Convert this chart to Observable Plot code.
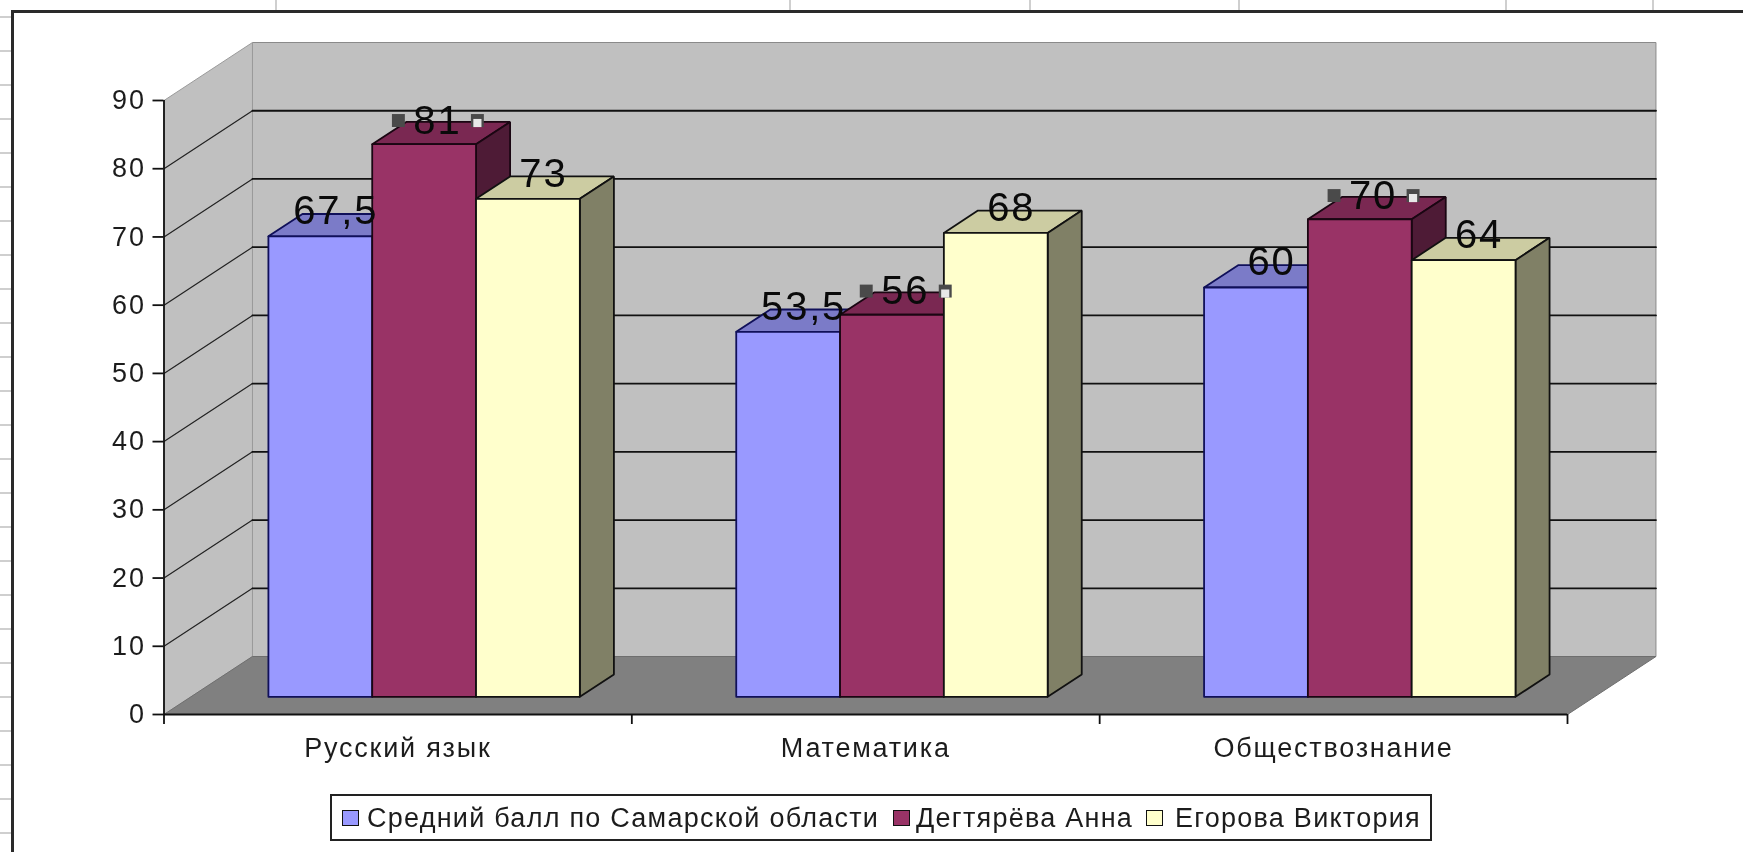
<!DOCTYPE html>
<html lang="ru">
<head>
<meta charset="utf-8">
<script src="https://cdn.jsdelivr.net/npm/d3@7"></script>
<script src="https://cdn.jsdelivr.net/npm/@observablehq/plot@0.6"></script>
<style>
  html, body { margin: 0; padding: 0; width: 1743px; height: 852px; overflow: hidden; background: #fff; }
  body { position: relative; font-family: "Liberation Sans", Arial, sans-serif; color: #1c1c1c; }
  #bg { position: absolute; inset: 0; filter: blur(0.4px); }
  #bg div { position: absolute; }
  #chart { position: absolute; left: 0; top: 0; filter: blur(0.4px); }
  #chart g[aria-label="y-axis tick label"] { letter-spacing: 2px; }
  #chart g[aria-label="x-axis tick label"] { letter-spacing: 1.77px; }
  #chart g[aria-label="text"] { letter-spacing: 1.8px; }
  #legend {
    position: absolute; left: 330px; top: 794px; width: 1102px; height: 47px; box-sizing: border-box;
    border: 2px solid #222; background: #fff; font-size: 27px; letter-spacing: 1.25px; white-space: nowrap;
    filter: blur(0.4px);
  }
  #legend span.k { position: absolute; top: 14px; width: 15px; height: 14px; border: 1.5px solid #111; }
  #legend span.t { position: absolute; top: 7px; line-height: 30px; }
</style>
</head>
<body>
<div id="bg"></div>
<div id="chart"></div>
<div id="legend"></div>
<script>
const categories = ["Русский язык", "Математика", "Обществознание"];
const seriesNames = ["Средний балл по Самарской области", "Дегтярёва Анна", "Егорова Виктория"];
const averageScores = [67.5, 53.5, 60];
const annaScores = [81, 56, 70];
const viktoriaScores = [73, 68, 64];
const seriesValues = [averageScores, annaScores, viktoriaScores];
const selectedSeries = 1;
const yTicks = [0, 10, 20, 30, 40, 50, 60, 70, 80, 90];

const frontColors = ["#9999FF", "#993366", "#FFFFCC"];
const topColors = ["#7B7BC8", "#7A2852", "#CCCCA2"];
const sideColors = ["#4D4D80", "#4E1B36", "#808066"];
const edgeColors = ["#10105a", "#1a0612", "#111"];

// oblique projection of the 3-D box, in data units
const depthX = 0.1891, depthY = 8.5;
const zFront = 0.305, zBack = 0.69;
const groupGap = 0.1655, barWidth = 0.2219;
const p = (x, v, z) => ({x: x + z * depthX, y: v + z * depthY});

const polys = [];
let polyId = 0;
function poly(points, fill, stroke) {
  const id = polyId++;
  for (const q of [...points, points[0]]) polys.push({id, x: q.x, y: q.y, fill, stroke});
}

const bars = [];
categories.forEach((c, i) => seriesValues.forEach((vals, s) => {
  bars.push({i, s, value: vals[i], x1: i + groupGap + s * barWidth, x2: i + groupGap + (s + 1) * barWidth});
}));

// floor and walls
const cn = categories.length, yMax = 90;
const wallPolys = [];
{
  const mark = polys.length;
  poly([p(0,0,1), p(cn,0,1), p(cn,yMax,1), p(0,yMax,1)], "#C0C0C0", "#8a8a8a");
  poly([p(0,0,0), p(0,0,1), p(0,yMax,1), p(0,yMax,0)], "#C0C0C0", "#9a9a9a");
  poly([p(0,0,0), p(cn,0,0), p(cn,0,1), p(0,0,1)], "#808080", "#6e6e6e");
  wallPolys.push(...polys.splice(mark));
}

// boxes, painted left to right: top, side, front
for (const b of bars) {
  const e = edgeColors[b.s];
  poly([p(b.x1,b.value,zFront), p(b.x2,b.value,zFront), p(b.x2,b.value,zBack), p(b.x1,b.value,zBack)], topColors[b.s], e);
  poly([p(b.x2,0,zFront), p(b.x2,b.value,zFront), p(b.x2,b.value,zBack), p(b.x2,0,zBack)], sideColors[b.s], e);
  poly([p(b.x1,0,zFront), p(b.x2,0,zFront), p(b.x2,b.value,zFront), p(b.x1,b.value,zFront)], frontColors[b.s], e);
}

// grid lines across the side wall and the back wall
const gridBack = [], gridSide = [];
for (const t of yTicks.slice(1, -1)) {
  gridSide.push({id: t, ...p(0, t, 0)}, {id: t, ...p(0, t, 1)});
  gridBack.push({id: t, ...p(0, t, 1)}, {id: t, ...p(cn, t, 1)});
}

const labels = bars.map(b => {
  const q = p((b.x1 + b.x2) / 2, b.value, zFront + (b.s === selectedSeries ? 0.15 : 0.175));
  return {x: q.x, y: q.y, text: String(b.value).replace(".", ","), s: b.s};
});
const handles = labels.filter(d => d.s === selectedSeries);

const chart = Plot.plot({
  width: 1743, height: 790,
  marginLeft: 163.5, marginRight: 176, marginTop: 100, marginBottom: 76,
  style: {background: "transparent", overflow: "visible", fontFamily: "'Liberation Sans', Arial, sans-serif", color: "#1c1c1c"},
  x: {type: "linear", domain: [0, cn]},
  y: {type: "linear", domain: [0, yMax]},
  color: {type: "identity"},
  marks: [
    Plot.line(wallPolys, {x: "x", y: "y", z: "id", fill: "fill", stroke: "stroke", strokeWidth: 1}),
    Plot.line(gridSide, {x: "x", y: "y", z: "id", stroke: "#222", strokeWidth: 1.2}),
    Plot.line(gridBack, {x: "x", y: "y", z: "id", stroke: "#111", strokeWidth: 1.8}),
    Plot.line(polys, {x: "x", y: "y", z: "id", fill: "fill", stroke: "stroke", strokeWidth: 1.8, strokeLinejoin: "miter"}),
    Plot.ruleX([0], {y1: 0, y2: yMax, stroke: "#111", strokeWidth: 1.8}),
    Plot.ruleY([0], {x1: 0, x2: cn, stroke: "#111", strokeWidth: 2}),
    Plot.axisY({ticks: yTicks, tickSize: 11, tickPadding: 7, fontSize: 27, label: null, stroke: "#111", strokeWidth: 1.8}),
    Plot.axisX({ticks: d3.range(0, cn + 1), tickSize: 10, tickFormat: () => "", label: null, stroke: "#111", strokeWidth: 1.8}),
    Plot.axisX({ticks: categories.map((c, i) => i + 0.5), tickSize: 0, tickPadding: 23, tickFormat: d => categories[Math.floor(d)], fontSize: 27, label: null}),
    Plot.dot(handles, {x: "x", y: "y", dx: -39, dy: -15, symbol: "square", r: 7.3, fill: "#4a4a4a", stroke: "none"}),
    Plot.dot(handles, {x: "x", y: "y", dx: 40, dy: -15, symbol: "square", r: 7.3, fill: "#4a4a4a", stroke: "none"}),
    Plot.dot(handles, {x: "x", y: "y", dx: 40, dy: -12.5, symbol: "square", r: 4.6, fill: "#e8e8e8", stroke: "none"}),
    Plot.text(labels, {x: "x", y: "y", text: "text", fontSize: 40, fill: "#0a0a0a", textAnchor: "middle", lineAnchor: "bottom", dy: -2, stroke: "none"})
  ]
});
document.getElementById("chart").append(chart);

// worksheet behind the chart object
const bg = document.getElementById("bg");
const sheetRowLines = d3.range(16, 852, 34);
const sheetColumnLines = [275, 789, 1029, 1238, 1505, 1652];
for (const y of sheetRowLines) {
  const d = document.createElement("div");
  d.style.cssText = `left:0;top:${y}px;width:12px;height:2px;background:#cfcfcf`;
  bg.append(d);
}
for (const x of sheetColumnLines) {
  const d = document.createElement("div");
  d.style.cssText = `left:${x}px;top:0;width:2px;height:10px;background:#cfcfcf`;
  bg.append(d);
}
const frameTop = document.createElement("div");
frameTop.style.cssText = "left:11px;top:10px;right:0;height:2.5px;background:#2a2a2a";
const frameLeft = document.createElement("div");
frameLeft.style.cssText = "left:11px;top:10px;bottom:0;width:2.5px;background:#2a2a2a";
bg.append(frameTop, frameLeft);

// legend
const legend = document.getElementById("legend");
const swatchLeft = [10, 561, 814];
const textLeft = [35, 584, 843];
seriesNames.forEach((name, i) => {
  const k = document.createElement("span");
  k.className = "k"; k.style.left = swatchLeft[i] + "px"; k.style.background = frontColors[i];
  const t = document.createElement("span");
  t.className = "t"; t.style.left = textLeft[i] + "px"; t.textContent = name;
  legend.append(k, t);
});
</script>
</body>
</html>
